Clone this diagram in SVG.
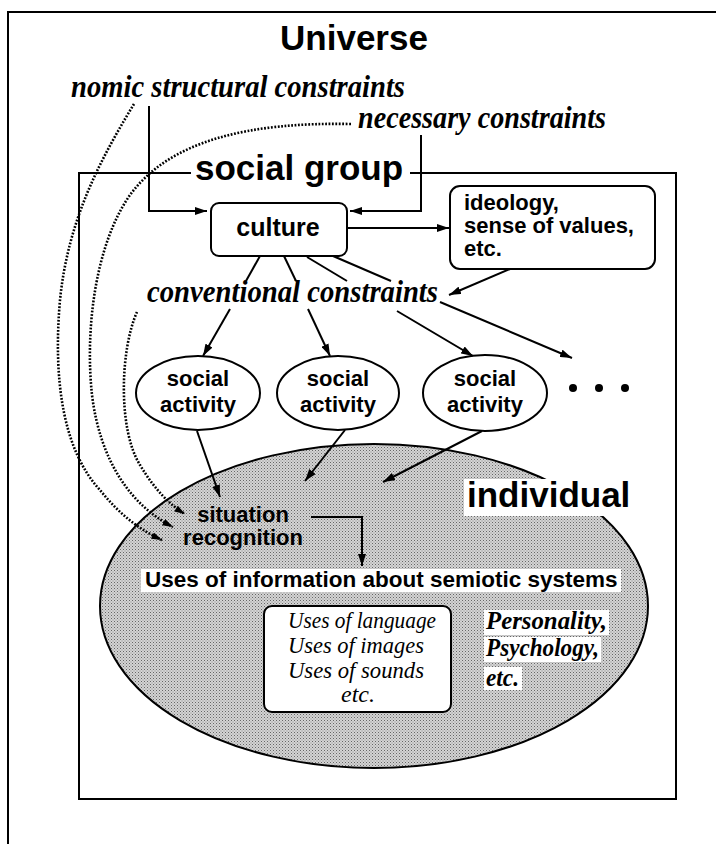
<svg xmlns="http://www.w3.org/2000/svg" width="716" height="844" viewBox="0 0 716 844">
  <defs>
    <marker id="arrow" viewBox="0 0 12 8" refX="12" refY="4" markerWidth="12" markerHeight="8" markerUnits="userSpaceOnUse" orient="auto">
      <path d="M0,0 L12,4 L0,8 z" fill="#000"/>
    </marker>
    <marker id="arrowSmall" viewBox="0 0 12 8" refX="12" refY="4" markerWidth="11" markerHeight="7" markerUnits="userSpaceOnUse" orient="auto">
      <path d="M0,0 L12,4 L0,8 z" fill="#000"/>
    </marker>
    <!-- halftone screen for the individual -->
    <pattern id="screen" width="3" height="3" patternUnits="userSpaceOnUse">
      <rect width="3" height="3" fill="#d4d4d4"/>
      <rect x="0" y="0" width="1" height="1" fill="#666"/>
      <rect x="1.5" y="1.5" width="1" height="1" fill="#888"/>
    </pattern>
    <style>
      .sans { font-family: "Liberation Sans", Arial, sans-serif; font-weight: bold; fill: #000; }
      .serif { font-family: "Liberation Serif", "Times New Roman", serif; font-style: italic; fill: #000; }
      .bi { font-weight: bold; }
      .line { fill: none; stroke: #000; stroke-width: 2; }
      .arrow { fill: none; stroke: #000; stroke-width: 2; marker-end: url(#arrow); }
      .dotted { fill: none; stroke: #000; stroke-width: 2.6; stroke-dasharray: 1.8 1.6; marker-end: url(#arrowSmall); }
      .node { fill: #fff; stroke: #000; stroke-width: 2; }
      .bg { fill: #fff; }
    </style>
  </defs>

  <rect width="716" height="844" fill="#fff"/>

  <!-- outer frame: Universe -->
  <g id="universe">
    <path class="line" d="M8,844 V12 H716" stroke-width="2.5"/>
    <text class="sans" x="354" y="50" font-size="35" text-anchor="middle">Universe</text>
    <text class="serif bi" x="71" y="97" font-size="31" textLength="334" lengthAdjust="spacingAndGlyphs">nomic structural constraints</text>
    <text class="serif bi" x="358" y="128" font-size="31" textLength="248" lengthAdjust="spacingAndGlyphs">necessary constraints</text>
  </g>

  <!-- inner frame: social group -->
  <g id="social-group">
    <path class="line" d="M191,173 H79 V799 H676 V173 H410"/>
    <text class="sans" x="195" y="180" font-size="35">social group</text>
  </g>

  <!-- individual (shaded ellipse) -->
  <g id="individual">
    <ellipse cx="374" cy="606" rx="274" ry="162" fill="url(#screen)" stroke="#000" stroke-width="2"/>
    <rect class="bg" x="464" y="479" width="172" height="37"/>
    <text class="sans" x="467" y="507" font-size="35">individual</text>
  </g>

  <g id="culture">
    <rect class="node" x="211" y="203" width="136" height="53" rx="8"/>
    <text class="sans" x="278" y="236" font-size="25" text-anchor="middle">culture</text>
  </g>

  <g id="ideology">
    <rect class="node" x="450" y="186" width="205" height="83" rx="10"/>
    <text class="sans" x="464" y="210" font-size="22">ideology,</text>
    <text class="sans" x="464" y="233" font-size="22">sense of values,</text>
    <text class="sans" x="464" y="256" font-size="22">etc.</text>
  </g>

  <g id="conventional-constraints">
    <text class="serif bi" x="147" y="302" font-size="31" textLength="291" lengthAdjust="spacingAndGlyphs">conventional constraints</text>
  </g>

  <g id="activity-1">
    <ellipse class="node" cx="198" cy="393" rx="62" ry="37"/>
    <text class="sans" x="198" y="386" font-size="22" text-anchor="middle">social</text>
    <text class="sans" x="198" y="412" font-size="22" text-anchor="middle">activity</text>
  </g>
  <g id="activity-2">
    <ellipse class="node" cx="338" cy="393" rx="61" ry="37"/>
    <text class="sans" x="338" y="386" font-size="22" text-anchor="middle">social</text>
    <text class="sans" x="338" y="412" font-size="22" text-anchor="middle">activity</text>
  </g>
  <g id="activity-3">
    <ellipse class="node" cx="485" cy="393" rx="62" ry="38"/>
    <text class="sans" x="485" y="386" font-size="22" text-anchor="middle">social</text>
    <text class="sans" x="485" y="412" font-size="22" text-anchor="middle">activity</text>
  </g>

  <g id="more-activities">
    <circle cx="573" cy="388" r="4"/>
    <circle cx="599" cy="388" r="4"/>
    <circle cx="625" cy="388" r="4"/>
  </g>

  <g id="situation-recognition">
    <text class="sans" x="243" y="522" font-size="22" text-anchor="middle">situation</text>
    <text class="sans" x="243" y="545" font-size="22" text-anchor="middle">recognition</text>
  </g>

  <g id="semiotic-uses">
    <rect class="bg" x="141" y="569" width="480" height="23"/>
    <text class="sans" x="145" y="587" font-size="22.5">Uses of information about semiotic systems</text>
  </g>

  <g id="uses-box">
    <rect class="node" x="264" y="606" width="187" height="106" rx="8" stroke-width="1.6"/>
    <text class="serif" x="288" y="628" font-size="24" textLength="148" lengthAdjust="spacingAndGlyphs">Uses of language</text>
    <text class="serif" x="288" y="653" font-size="24" textLength="136" lengthAdjust="spacingAndGlyphs">Uses of images</text>
    <text class="serif" x="288" y="678" font-size="24" textLength="136" lengthAdjust="spacingAndGlyphs">Uses of sounds</text>
    <text class="serif" x="358" y="702" font-size="24" text-anchor="middle">etc.</text>
  </g>

  <g id="personality">
    <rect class="bg" x="484" y="610" width="125" height="25"/>
    <rect class="bg" x="484" y="637" width="117" height="25"/>
    <rect class="bg" x="484" y="667" width="38" height="23"/>
    <text class="serif bi" x="486" y="629" font-size="25" textLength="121" lengthAdjust="spacingAndGlyphs">Personality,</text>
    <text class="serif bi" x="486" y="656" font-size="25" textLength="113" lengthAdjust="spacingAndGlyphs">Psychology,</text>
    <text class="serif bi" x="486" y="686" font-size="25" textLength="33" lengthAdjust="spacingAndGlyphs">etc.</text>
  </g>

  <!-- connectors -->
  <g id="connectors">
    <!-- constraints feeding culture -->
    <path class="arrow" d="M149,106 V211 H207"/>
    <path class="arrow" d="M421,135 V211 H350"/>
    <!-- culture to ideology, ideology back to conventional constraints -->
    <path class="arrow" d="M347,228 H449"/>
    <path class="arrow" d="M510,269 L449,295"/>
    <!-- culture fanning out through conventional constraints -->
    <path class="line" d="M260,256 L246,281"/>
    <path class="arrow" d="M230,309 L203,356"/>
    <path class="line" d="M284,256 L296,281"/>
    <path class="arrow" d="M308,309 L330,356"/>
    <path class="line" d="M307,257 L347,281"/>
    <path class="arrow" d="M397,311 L473,356"/>
    <path class="line" d="M333,256 L391,281"/>
    <path class="arrow" d="M440,302 L572,358"/>
    <!-- social activities into the individual -->
    <path class="arrow" d="M197,431 L220,497"/>
    <path class="arrow" d="M345,430 L305,481"/>
    <path class="arrow" d="M482,431 L383,482"/>
    <!-- situation recognition to semiotic uses -->
    <path class="arrow" d="M311,517 H362 V566"/>
    <!-- dotted influences on situation recognition -->
    <path class="dotted" d="M134,104 C100,160 68,220 60,300 C53,380 63,450 100,490 C120,515 140,530 162,540"/>
    <path class="dotted" d="M351,124 C250,122 170,140 130,195 C95,245 85,330 92,395 C100,460 130,505 173,527"/>
    <path class="dotted" d="M137,312 C120,350 118,430 140,465 C155,490 170,505 185,514"/>
  </g>
</svg>
